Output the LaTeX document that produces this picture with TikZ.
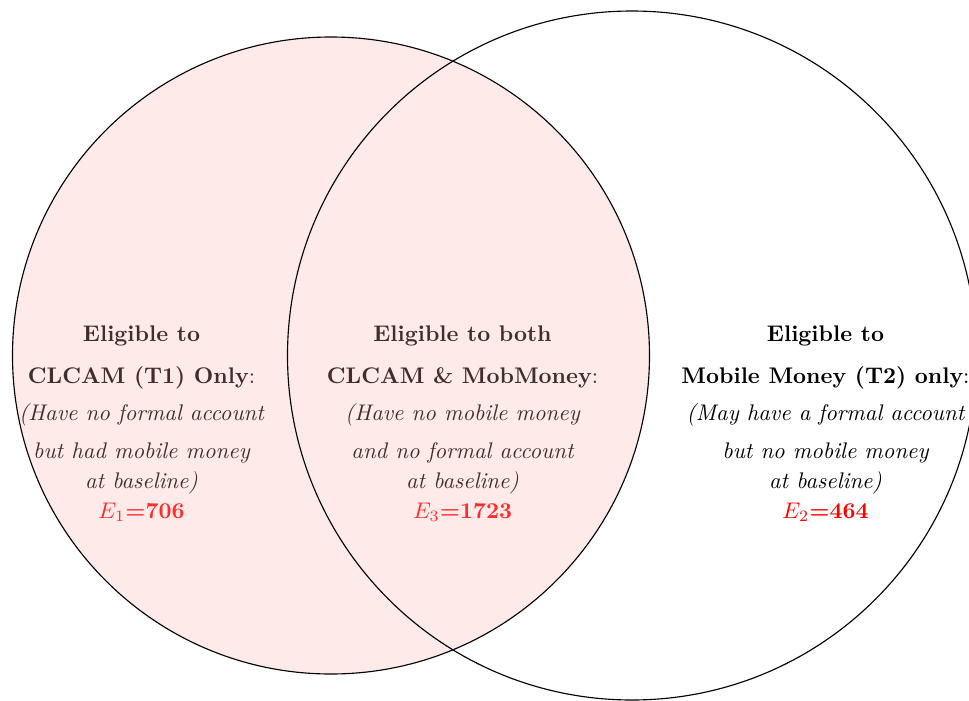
\documentclass[tikz,border=0pt]{standalone}
\begin{document}
\begin{tikzpicture}[x=0.4425pt,y=-0.4425pt,
  ln/.style={anchor=base,inner sep=0pt,font=\normalsize},
  hd/.style={ln,font=\bfseries},
  ds/.style={ln,font=\itshape},
  cnt/.style={ln,text=red},
  setA/.style={draw=black,fill=red!32,fill opacity=0.26,line width=0.5pt},
  setB/.style={draw=black,line width=0.5pt}]
\useasboundingbox (0,0) rectangle (969,701);
% left column
\node[hd]  (l1) at (141.5,341.7) {Eligible to};
\node[ln]  (l2) at (141.5,383) {\textbf{CLCAM (T1) Only}:};
\node[ds]  (l3) at (141.5,420.7) {(Have no formal account};
\node[ds]  (l4) at (141.5,458) {but had mobile money};
\node[ds]  (l5) at (141.5,488) {at baseline)};
\node[cnt] (l6) at (141.5,518) {$E_1$\textbf{=706}};
% middle column
\node[hd]  (m1) at (462.5,341.7) {Eligible to both};
\node[ln]  (m2) at (462.5,383) {\textbf{CLCAM \& MobMoney}:};
\node[ds]  (m3) at (462.5,420.7) {(Have no mobile money};
\node[ds]  (m4) at (462.5,458) {and no formal account};
\node[ds]  (m5) at (462.5,488) {at baseline)};
\node[cnt] (m6) at (462.5,518) {$E_3$\textbf{=1723}};
% right column
\node[hd]  (r1) at (825.5,341.7) {Eligible to};
\node[ln]  (r2) at (825.5,383) {\textbf{Mobile Money (T2) only}:};
\node[ds]  (r3) at (825.5,420.7) {(May have a formal account};
\node[ds]  (r4) at (825.5,458) {but no mobile money};
\node[ds]  (r5) at (825.5,488) {at baseline)};
\node[cnt] (r6) at (825.5,518) {$E_2$\textbf{=464}};
% circles
\draw[setA] (331,355.5) circle[radius=318.5];
\draw[setB] (632,355.5) circle[radius=344.5];
\end{tikzpicture}
\end{document}
